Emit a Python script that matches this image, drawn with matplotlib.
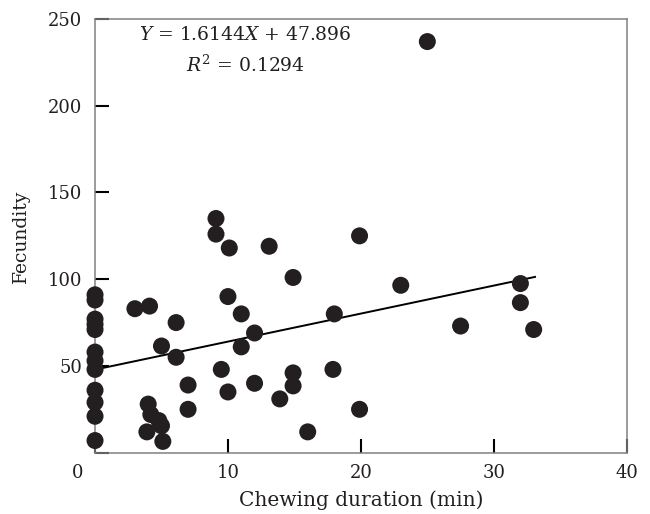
import matplotlib.pyplot as plt
import matplotlib.transforms as mtransforms
import numpy as np

# chewing duration (min) and fecundity
chewing = [0, 0, 0, 0, 0, 0, 0, 0, 0, 0, 0, 0,
           4.0, 4.2, 4.8, 5.0, 3.9, 5.1,
           3.0, 4.1, 6.1, 5.0, 6.1, 7.0, 7.0,
           9.1, 9.1, 10.1, 13.1, 10.0, 11.0, 12.0, 11.0, 9.5, 10.0, 12.0, 13.9,
           18.0, 14.9, 14.9, 17.9, 19.9, 16.0, 19.9, 14.9,
           23.0, 25.0, 32.0, 32.0, 27.5, 33.0]
fecundity = [91, 88, 77, 74, 71, 58, 53, 48, 36, 29, 21, 7,
             28, 22, 18.5, 15.5, 12, 6.5,
             83, 84.5, 75, 61.5, 55, 39, 25,
             135, 126, 118, 119, 90, 80, 69, 61, 48, 35, 40, 31,
             80, 46, 38.5, 48, 25, 12, 125, 101,
             96.5, 237, 97.5, 86.5, 73, 71]

slope = 1.6144
intercept = 47.896
fit_x = [0, 33.1]

x_ticks = [0, 10, 20, 30, 40]
y_ticks = [0, 50, 100, 150, 200, 250]
y_labels = ["", "50", "100", "150", "200", "250"]

plt.rcParams["font.family"] = ["DejaVu Serif"]
plt.rcParams["mathtext.fontset"] = "dejavuserif"

fig = plt.figure(figsize=(6.5, 5.14), dpi=100)
ax = fig.add_axes([0.1462, 0.1193, 0.8180, 0.8437])

fx = np.array(fit_x)
ax.plot(fx, slope * fx + intercept, color="black", lw=1.4, zorder=2)
ax.scatter(chewing, fecundity, s=150, color="#231f20", edgecolors="none",
           zorder=3, clip_on=False)

ax.set_xlim(0, 40)
ax.set_ylim(0, 250)
ax.set_xticks(x_ticks)
ax.set_yticks(y_ticks)
ax.set_yticklabels(y_labels)

ax.tick_params(direction="in", length=10, width=1.5, color="black",
               labelsize=13, pad=8, labelcolor="#231f20")
ax.tick_params(axis="y", pad=9)
for s in ax.spines.values():
    s.set_color("#808080")
    s.set_linewidth(1.1)

# the origin "0" sits left of the corner
lab0 = ax.get_xticklabels()[0]
lab0.set_transform(lab0.get_transform() +
                   mtransforms.ScaledTranslation(-17 / 100, 0, fig.dpi_scale_trans))

ax.set_xlabel("Chewing duration (min)", fontsize=14.5, labelpad=6, color="#231f20")
ax.set_ylabel("Fecundity", fontsize=13.5, labelpad=13, color="#231f20")

ax.text(0.282, 0.963, r"$Y$ = 1.6144$X$ + 47.896", transform=ax.transAxes,
        ha="center", va="center", fontsize=13.5, color="#231f20")
ax.text(0.282, 0.893, r"$R^2$ = 0.1294", transform=ax.transAxes,
        ha="center", va="center", fontsize=13.5, color="#231f20")

fig.savefig("out.png", dpi=100)
